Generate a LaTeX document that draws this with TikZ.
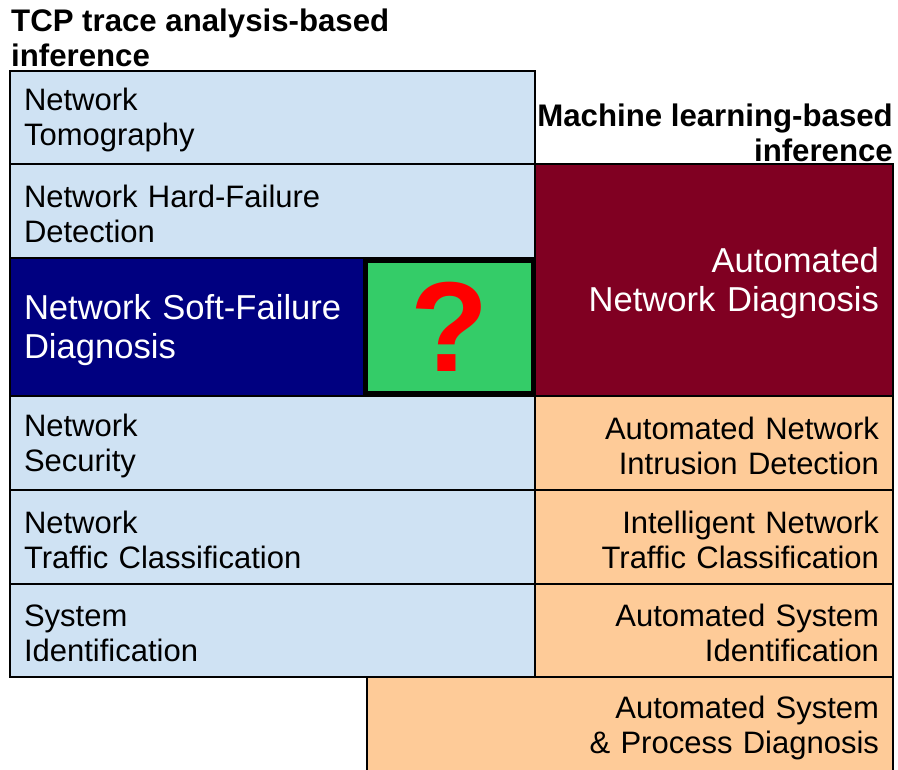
\documentclass[tikz,border=0pt]{standalone}
\usepackage{fontspec}
\setmainfont{Liberation Sans}
\usetikzlibrary{positioning}
\definecolor{cellblue}{HTML}{CFE2F3}
\definecolor{cellnavy}{HTML}{000080}
\definecolor{cellgreen}{HTML}{34CC68}
\definecolor{cellwine}{HTML}{800022}
\definecolor{cellorange}{HTML}{FECB98}
\tikzset{
  tcp cell/.style={
    draw=black,
    line width=1.5pt,
    fill=cellblue,
    align=left,
    inner xsep=14pt,
    inner ysep=0pt,
    font=\fontsize{31}{35}\selectfont,
    execute at begin node={\rule{0pt}{0.89em}}
  },
  ml cell/.style={
    tcp cell,
    fill=cellorange,
    align=right
  },
  group title/.style={
    inner sep=0pt,
    font=\fontsize{31.2}{35}\selectfont\bfseries
  }
}

\begin{document}
\begin{tikzpicture}[x=1pt, y=-1pt]
    \useasboundingbox (0,0) rectangle (898,770);

    % group titles
    \node[group title, anchor=west, align=left] (tcptitle) at (11, 37.5)
      {TCP trace analysis-based\\inference};
    \node[group title, anchor=east, align=right] (mltitle) at (893, 132.5)
      {Machine learning-based\\inference};

    % TCP trace analysis-based column
    \node[tcp cell, text width=497pt, minimum height=93pt] (tomography) at (272.5, 117.5)
      {Network\\Tomography};
    \node[tcp cell, text width=497pt, minimum height=94pt] (hardfail) at (272.5, 211)
      {Network Hard-Failure\\Detection};
    \node[tcp cell, text width=497pt, minimum height=94pt] (security) at (272.5, 443)
      {Network\\Security};
    \node[tcp cell, text width=497pt, minimum height=94pt] (traffic) at (272.5, 537)
      {Network\\Traffic Classification};
    \node[tcp cell, text width=497pt, minimum height=93pt] (sysid) at (272.5, 630.5)
      {System\\Identification};

    % soft-failure row
    \node[tcp cell, fill=cellnavy, text=white, text width=327pt, minimum height=138pt,
          font=\fontsize{34.6}{39}\selectfont] (softfail) at (187.5, 327)
      {Network Soft-Failure\\Diagnosis};
    \node[draw=black, line width=5pt, fill=cellgreen, text=red, inner sep=0pt,
          minimum width=168pt, minimum height=133pt,
          font=\fontsize{128}{128}\selectfont\bfseries] (question) at (449.5, 327) {?};

    % machine learning-based column
    \node[ml cell, fill=cellwine, text=white, text width=330pt, minimum height=232pt,
          font=\fontsize{34.6}{39}\selectfont] (autodiag) at (714, 280)
      {Automated\\Network Diagnosis};
    \node[ml cell, text width=330pt, minimum height=94pt] (intrusion) at (714, 443)
      {Automated Network\\Intrusion Detection};
    \node[ml cell, text width=330pt, minimum height=94pt] (inteltraffic) at (714, 537)
      {Intelligent Network\\Traffic Classification};
    \node[ml cell, text width=330pt, minimum height=93pt] (autosysid) at (714, 630.5)
      {Automated System\\Identification};
    \node[ml cell, text width=498pt, minimum height=96pt] (procdiag) at (630, 725)
      {Automated System\\\& Process Diagnosis};

\end{tikzpicture}
\end{document}
